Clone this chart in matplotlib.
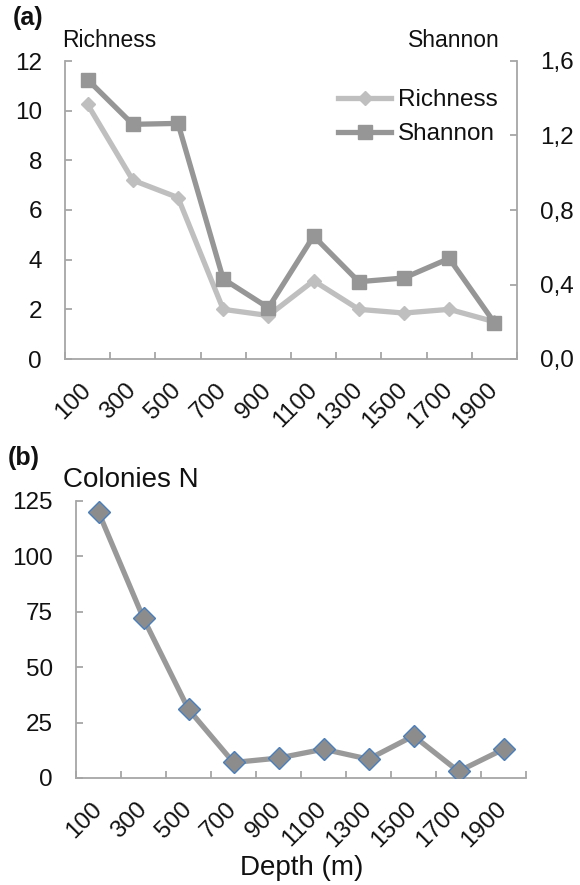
import numpy as np
import matplotlib.pyplot as plt
from matplotlib.ticker import FuncFormatter

plt.rcParams['font.family'] = ['Liberation Sans', 'DejaVu Sans']

depths = ['100', '300', '500', '700', '900', '1100', '1300', '1500', '1700', '1900']
richness = [10.25, 7.2, 6.5, 2.0, 1.75, 3.15, 2.0, 1.85, 2.0, 1.5]
shannon = [1.50, 1.26, 1.265, 0.43, 0.275, 0.66, 0.415, 0.435, 0.54, 0.195]
colonies = [120, 72, 31, 7, 9, 13, 8.5, 19, 3, 13]

W, H = 580, 885
fig = plt.figure(figsize=(W / 100, H / 100), dpi=100)

spine_c = '#a6a6a6'
txt_c = '#111111'
tick_fs = 17.5
x = np.arange(len(depths))


def px(l, t, r, b):
    return [l / W, 1 - b / H, (r - l) / W, (b - t) / H]


def style_x(ax):
    ax.set_xlim(-0.5, len(depths) - 0.5)
    ax.set_xticks(x)
    ax.set_xticklabels(depths, rotation=45, ha='right', va='center',
                       rotation_mode='anchor')
    ax.set_xticks(np.arange(len(depths) + 1) - 0.5, minor=True)
    ax.tick_params(axis='x', which='major', length=0, pad=20, labelsize=tick_fs, labelcolor=txt_c)
    ax.tick_params(axis='x', which='minor', direction='in', length=5, width=1.3, color=spine_c)


# (a) richness and shannon
ax1 = fig.add_axes(px(65, 61, 517, 359))
ax2 = ax1.twinx()

l1, = ax1.plot(x, richness, color='#bfbfbf', lw=3.8, marker='D', ms=7,
               mfc='#bfbfbf', mec='#bfbfbf', label='Richness', zorder=3)
l2, = ax2.plot(x, shannon, color='#969696', lw=3.8, marker='s', ms=10,
               mfc='#969696', mec='#969696', label='Shannon', zorder=3)

style_x(ax1)
ax1.set_ylim(0, 12)
ax1.set_yticks(np.arange(0, 13, 2))
ax2.set_ylim(0, 1.6)
ax2.set_yticks(np.arange(0, 1.61, 0.4))
ax2.yaxis.set_major_formatter(FuncFormatter(lambda v, p: f'{v:.1f}'.replace('.', ',')))

for a in (ax1, ax2):
    a.spines['top'].set_visible(False)
    for s in a.spines.values():
        s.set_color(spine_c)
        s.set_linewidth(1.3)
ax1.spines['right'].set_visible(False)
ax2.spines['left'].set_visible(False)
ax2.spines['bottom'].set_visible(False)
ax1.tick_params(axis='y', direction='in', length=5, width=1.3, color=spine_c,
                pad=16.5, labelsize=tick_fs, labelcolor=txt_c)
ax2.tick_params(axis='y', direction='in', length=5, width=1.3, color=spine_c,
                pad=16.5, labelsize=tick_fs, labelcolor=txt_c)

ax2.legend([l1, l2], ['Richness', 'Shannon'], loc='upper left',
           bbox_to_anchor=(0.604, 0.905), frameon=False, fontsize=tick_fs,
           handlelength=2.2, handletextpad=0.25, borderpad=0, borderaxespad=0,
           labelspacing=0.5, labelcolor=txt_c)

fig.text(13 / W, 1 - 6 / H, '(a)', fontsize=18, fontweight='bold', va='top', color=txt_c)
fig.text(62 / W, 1 - 47 / H, 'Richness', fontsize=16.5, va='baseline', color=txt_c)
fig.text(500 / W, 1 - 47 / H, 'Shannon', fontsize=16.5, va='baseline', ha='right', color=txt_c)

# (b) colonies
ax3 = fig.add_axes(px(76, 501, 526, 778))
ax3.plot(x, colonies, color='#999999', lw=3.8, marker='D', ms=11,
         mfc='#8c8c8c', mec='#4a7ebb', mew=1.0, zorder=3)
style_x(ax3)
ax3.set_ylim(0, 125)
ax3.set_yticks(np.arange(0, 126, 25))
ax3.spines['top'].set_visible(False)
ax3.spines['right'].set_visible(False)
for s in ax3.spines.values():
    s.set_color(spine_c)
    s.set_linewidth(1.3)
ax3.tick_params(axis='y', direction='in', length=5, width=1.3, color=spine_c,
                pad=16.5, labelsize=tick_fs, labelcolor=txt_c)

fig.text(8 / W, 1 - 446 / H, '(b)', fontsize=18, fontweight='bold', va='top', color=txt_c)
fig.text(63 / W, 1 - 487 / H, 'Colonies N', fontsize=20, va='baseline', color=txt_c)
fig.text(302 / W, 1 - 868 / H, 'Depth (m)', fontsize=20, ha='center', va='center', color=txt_c)

fig.savefig('out.png', dpi=100)
